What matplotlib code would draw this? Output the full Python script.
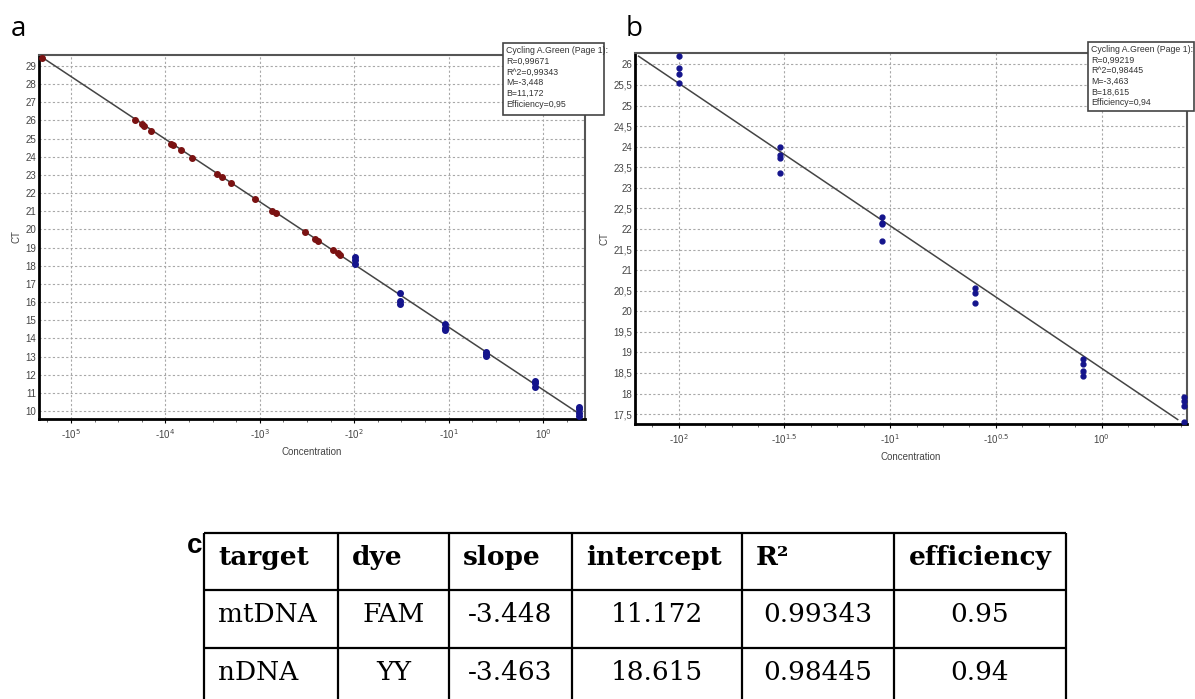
import matplotlib
matplotlib.use("Agg")
import matplotlib.pyplot as plt
import numpy as np
from matplotlib.ticker import FixedLocator, AutoMinorLocator
from matplotlib.patches import Rectangle

# ---- data (x = log10 concentration) ----
a_red_x = [-5.31, -4.32, -4.25, -4.23, -4.15, -3.94, -3.92, -3.84, -3.72, -3.45, -3.40,
           -3.31, -3.05, -2.87, -2.83, -2.52, -2.42, -2.38, -2.23, -2.17, -2.15]
a_red_y = [29.46, 26.03, 25.81, 25.71, 25.44, 24.70, 24.65, 24.37, 23.93, 23.04, 22.90,
           22.54, 21.68, 21.03, 20.92, 19.86, 19.47, 19.38, 18.87, 18.69, 18.59]
a_blue_x = [-1.99, -1.99, -1.99, -1.52, -1.52, -1.52, -1.04, -1.04, -1.04, -0.60, -0.60, -0.60,
            -0.09, -0.09, -0.09, 0.38, 0.38, 0.38, 0.38]
a_blue_y = [18.47, 18.32, 18.08, 16.52, 16.08, 15.88, 14.78, 14.59, 14.45, 13.27, 13.14, 13.05,
            11.67, 11.53, 11.34, 10.21, 10.10, 9.91, 9.73]

b_x = [-2.0, -2.0, -2.0, -2.0, -1.52, -1.52, -1.52, -1.52, -1.04, -1.04, -1.04, -1.04,
       -0.60, -0.60, -0.60, -0.09, -0.09, -0.09, -0.09, 0.39, 0.39, 0.39, 0.39]
b_y = [26.20, 25.91, 25.76, 25.56, 23.99, 23.81, 23.72, 23.37, 22.30, 22.15, 22.11, 21.70,
       20.56, 20.44, 20.21, 18.84, 18.72, 18.54, 18.42, 17.91, 17.82, 17.70, 17.32]

# fit results (legend boxes and table)
targets = ["mtDNA", "nDNA"]
dyes = ["FAM", "YY"]
slopes = [-3.448, -3.463]
intercepts = [11.172, 18.615]
r_vals = [0.99671, 0.99219]
r2_vals = [0.99343, 0.98445]
effs = [0.95, 0.94]

fit_x_a = [-5.31, 0.38]
fit_x_b = [-2.19, 0.36]

a_xticks = [-5, -4, -3, -2, -1, 0]
a_xlabels = [r"-10$^{5}$", r"-10$^{4}$", r"-10$^{3}$", r"-10$^{2}$", r"-10$^{1}$", r"10$^{0}$"]
b_xticks = [-2, -1.5, -1, -0.5, 0]
b_xlabels = [r"-10$^{2}$", r"-10$^{1.5}$", r"-10$^{1}$", r"-10$^{0.5}$", r"10$^{0}$"]

RED = "#7a1212"
BLUE = "#14148c"
SANS = "Liberation Sans"

fig = plt.figure(figsize=(11.95, 6.99), dpi=100)


def comma(v):
    return f"{v:g}".replace(".", ",")


def setup_panel(ax, xlim, ylim, xticks, xlabels, yticks):
    ax.set_xlim(*xlim)
    ax.set_ylim(*ylim)
    ax.xaxis.set_major_locator(FixedLocator(xticks))
    ax.set_xticklabels(xlabels)
    ax.xaxis.set_minor_locator(AutoMinorLocator(4))
    ax.set_yticks(yticks)
    ax.set_yticklabels([comma(v) for v in yticks])
    ax.grid(True, which="major", color="#a8a8a8", linestyle=(0, (2, 2)), linewidth=0.8)
    ax.tick_params(axis="y", length=0, pad=2, labelsize=7, labelcolor="#444444")
    ax.tick_params(axis="x", which="major", length=3, pad=3, labelsize=7, labelcolor="#444444")
    ax.tick_params(axis="x", which="minor", length=2, color="#555555")
    for lab in ax.get_xticklabels() + ax.get_yticklabels():
        lab.set_family(SANS)
    for s in ["left", "bottom"]:
        ax.spines[s].set_linewidth(2.0)
        ax.spines[s].set_color("black")
    for s in ["top", "right"]:
        ax.spines[s].set_linewidth(1.5)
        ax.spines[s].set_color("#555555")
    ax.set_xlabel("Concentration", fontsize=7, family=SANS, color="#444444", labelpad=4)
    ax.set_ylabel("CT", fontsize=7, family=SANS, color="#444444", labelpad=3)


# panel a
ax_a = fig.add_axes([39 / 1195, 1 - 419 / 699, 546 / 1195, 364 / 699])
setup_panel(ax_a, (-5.34, 0.445), (9.56, 29.6), a_xticks, a_xlabels, list(range(10, 30)))
fx = np.array(fit_x_a)
ax_a.plot(fx, slopes[0] * fx + intercepts[0], color="#444444", lw=1.1, zorder=2)
ax_a.plot(a_red_x, a_red_y, "o", ms=4, color=RED, zorder=3)
ax_a.plot(a_blue_x, a_blue_y, "o", ms=4, color=BLUE, zorder=3)

# panel b
ax_b = fig.add_axes([635 / 1195, 1 - 424 / 699, 552 / 1195, 370.7 / 699])
setup_panel(ax_b, (-2.207, 0.404), (17.26, 26.27), b_xticks, b_xlabels,
            [17.5 + 0.5 * i for i in range(18)])
fx = np.array(fit_x_b)
ax_b.plot(fx, slopes[1] * fx + intercepts[1], color="#444444", lw=1.1, zorder=2)
ax_b.plot(b_x, b_y, "o", ms=3.5, color=BLUE, zorder=3)

# overlay in pixel coordinates for labels, boxes and the table
ov = fig.add_axes([0, 0, 1, 1], zorder=10)
ov.set_xlim(0, 1195)
ov.set_ylim(699, 0)
ov.axis("off")
ov.patch.set_alpha(0)

ov.text(11, 35.7, "a", fontsize=20, family="Open Sans", va="baseline")
ov.text(626, 35.7, "b", fontsize=20, family="Open Sans", va="baseline")

# legend boxes
for i, (bx, by, bw, bh) in enumerate([(503, 43, 101, 72), (1088, 41.7, 106, 69)]):
    ov.add_patch(Rectangle((bx, by), bw, bh, facecolor="white", edgecolor="#444444", lw=1.2))
    lines = ["Cycling A.Green (Page 1):", f"R={comma(r_vals[i])}", f"R^2={comma(r2_vals[i])}",
             f"M={comma(slopes[i])}", f"B={comma(intercepts[i])}", f"Efficiency={comma(effs[i])}"]
    ov.text(bx + 3, by + 3, "\n".join(lines), fontsize=6.3, family=SANS, color="#333333",
            va="top", ha="left", linespacing=1.25)

# table c
col_x = [204, 338.3, 449, 571.7, 741.7, 894, 1066]
row_y = [532.7, 590, 647.7, 705]
ov.hlines(row_y, col_x[0], col_x[-1], color="black", lw=1.6)
ov.vlines(col_x, row_y[0], row_y[-1], color="black", lw=1.6)
ov.text(195, 553, "c", fontsize=20, family=SANS, weight="bold", ha="center", va="baseline")

headers = ["target", "dye", "slope", "intercept", "R²", "efficiency"]
for j, h in enumerate(headers):
    if j == 5:
        ov.text((col_x[j] + col_x[j + 1]) / 2, 565, h, fontsize=19, family="DejaVu Serif",
                weight="bold", ha="center", va="baseline")
    else:
        ov.text(col_x[j] + 14, 565, h, fontsize=19, family="DejaVu Serif",
                weight="bold", ha="left", va="baseline")

baselines = [622.3, 680]
for i in range(2):
    cells = [targets[i], dyes[i], f"{slopes[i]:.3f}", f"{intercepts[i]:.3f}",
             f"{r2_vals[i]:.5f}", f"{effs[i]:.2f}"]
    for j, c in enumerate(cells):
        if j == 0:
            ov.text(col_x[j] + 14, baselines[i], c, fontsize=19, family="DejaVu Serif",
                    ha="left", va="baseline")
        else:
            ov.text((col_x[j] + col_x[j + 1]) / 2, baselines[i], c, fontsize=19,
                    family="DejaVu Serif", ha="center", va="baseline")

fig.savefig("out.png", dpi=100)
